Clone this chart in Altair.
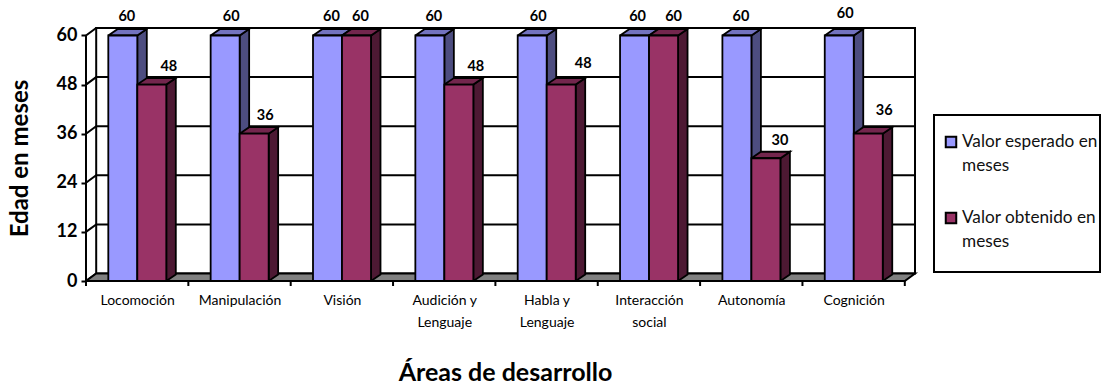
import altair as alt
import pandas as pd

# Developmental age by area, in months
areas = ["Locomoción", "Manipulación", "Visión", "Audición y|Lenguaje", "Habla y|Lenguaje",
         "Interacción|social", "Autonomía", "Cognición"]
esperado = [60, 60, 60, 60, 60, 60, 60, 60]
obtenido = [48, 36, 60, 48, 48, 60, 30, 36]
y_ticks = [0, 12, 24, 36, 48, 60]

# Label nudges (px) from the centre of each bar's front face
esperado_dx = [4, 6, 4, 4, 6, 3, 4, 6]
esperado_dy = [19, 19, 19, 19, 19, 19, 19, 22]
obtenido_dx = [17, 11, 4, 17, 22, 10, 14, 16]
obtenido_dy = [18, 18, 19, 18, 21, 19, 17, 23]

W, H = 829, 253
PX_X = 102.35   # pixels per category
PX_Y = 4.1      # pixels per month
WALL_DX, WALL_DY = 10.2 / PX_X, 7.5 / PX_Y
BAR_DX, BAR_DY = 9.5 / PX_X, 6.5 / PX_Y
BAR_W = 29 / PX_X
BAR_START = 22.3 / PX_X
N = len(areas)

FONT = "Lato"
xs = alt.Scale(domain=[0, N + WALL_DX], nice=False, zero=False)
ys = alt.Scale(domain=[0, 60 + WALL_DY], nice=False, zero=False)
LINE = 1.8

# x labels sit in the middle of each category; y axis carries ticks and labels
label_expr = "split(" + str(areas).replace("'", '"') + "[datum.value - 0.5], '|')"
x_axis = alt.Axis(
    values=[i + 0.5 for i in range(N)], labelExpr=label_expr, ticks=False, domain=False, grid=False,
    labelFont=FONT, labelFontSize=14, labelColor="black", labelPadding=19, labelLineHeight=22,
    labelOverlap=False, labelBaseline="middle",
    title="Áreas de desarrollo", titleFont=FONT, titleFontSize=25, titleFontWeight="bold",
    titleColor="black", titleX=419, titleY=91, titleAnchor="middle", titleBaseline="middle")
y_axis = alt.Axis(
    values=y_ticks, format="d", domain=False, grid=False, tickColor="black", tickWidth=2, tickSize=5,
    labelFont=FONT, labelFontSize=18, labelFontWeight="bold", labelColor="black", labelPadding=4,
    title="Edad en meses", titleFont=FONT, titleFontSize=24, titleFontWeight="bold", titleColor="black",
    titleX=-66, titleY=130, titleAngle=270, titleAnchor="middle", titleBaseline="middle")
X = lambda f="x": alt.X(f"{f}:Q", scale=xs, axis=x_axis)
Y = lambda f="y": alt.Y(f"{f}:Q", scale=ys, axis=y_axis)


def polygons(shapes, fill, width=LINE):
    """Filled outline per shape; each shape is a list of (x, y) corners."""
    rows = []
    for k, corners in enumerate(shapes):
        for o, (x, y) in enumerate(corners + corners[:1]):
            rows.append(dict(k=k, o=o, x=x, y=y))
    return alt.Chart(pd.DataFrame(rows)).mark_line(
        fill=fill, stroke="black", strokeWidth=width, clip=False, strokeJoin="miter", opacity=1
    ).encode(x=X(), y=Y(), detail="k:N", order="o:Q")


def bars(values, slot, front, side, top):
    sides, tops, fronts = [], [], []
    for i, v in enumerate(values):
        a = i + BAR_START + slot * BAR_W
        b = a + BAR_W
        sides.append([(b, 0), (b + BAR_DX, BAR_DY), (b + BAR_DX, v + BAR_DY), (b, v)])
        tops.append([(a, v), (a + BAR_DX, v + BAR_DY), (b + BAR_DX, v + BAR_DY), (b, v)])
        fronts.append([(a, 0), (b, 0), (b, v), (a, v)])
    return [polygons(sides, side), polygons(tops, top), polygons(fronts, front)]


# Back wall
wall = polygons([[(WALL_DX, WALL_DY), (N + WALL_DX, WALL_DY), (N + WALL_DX, 60 + WALL_DY), (WALL_DX, 60 + WALL_DY)]],
                "white", 2)

# Gridlines wrap from the front axis onto the back wall
grid_rows = []
for t in y_ticks:
    grid_rows += [dict(k=t, o=0, x=0, y=t), dict(k=t, o=1, x=WALL_DX, y=t + WALL_DY)]
    if t > 0:
        grid_rows.append(dict(k=t, o=2, x=N + WALL_DX, y=t + WALL_DY))
grid = alt.Chart(pd.DataFrame(grid_rows)).mark_line(
    color="black", strokeWidth=2, clip=False
).encode(x=X(), y=Y(), detail="k:N", order="o:Q")

# Floor
floor = polygons([[(0, 0), (N, 0), (N + WALL_DX, WALL_DY), (WALL_DX, WALL_DY)]], "#808080", 2)

front_axis = alt.Chart(pd.DataFrame([dict(x=0, y=0, y2=60)])).mark_rule(
    color="black", strokeWidth=2, clip=False
).encode(x=X(), y=Y(), y2="y2:Q")
bottom_axis = alt.Chart(pd.DataFrame([dict(x=0, x2=N, y=0)])).mark_rule(
    color="black", strokeWidth=2, clip=False
).encode(x=X(), x2="x2:Q", y=Y())
x_ticks = alt.Chart(pd.DataFrame(dict(x=list(range(N + 1))))).mark_rule(
    color="black", strokeWidth=2, clip=False
).encode(x=X(), y=alt.value(H), y2=alt.value(H + 5))

# Value labels above the bars
label_rows = []
for i in range(N):
    label_rows.append(dict(x=i + BAR_START + BAR_W / 2 + esperado_dx[i] / PX_X,
                           y=esperado[i] + esperado_dy[i] / PX_Y, t=esperado[i]))
    label_rows.append(dict(x=i + BAR_START + 1.5 * BAR_W + obtenido_dx[i] / PX_X,
                           y=obtenido[i] + obtenido_dy[i] / PX_Y, t=obtenido[i]))
labels = alt.Chart(pd.DataFrame(label_rows)).mark_text(
    font=FONT, fontSize=14.5, fontWeight="bold", color="black", clip=False
).encode(x=X(), y=Y(), text="t:Q")

# Legend box
LEG_X = 848
one = pd.DataFrame([dict(a=0)])
legend_box = alt.Chart(one).mark_rect(fill="white", stroke="black", strokeWidth=2, clip=False).encode(
    x=alt.value(LEG_X), x2=alt.value(1014), y=alt.value(87), y2=alt.value(244))


def legend_entry(color, y, line1, line2):
    swatch = alt.Chart(one).mark_point(
        shape="square", filled=True, fill=color, stroke="black", strokeWidth=2, size=110, opacity=1, clip=False
    ).encode(x=alt.value(LEG_X + 17), y=alt.value(y))
    texts = [
        alt.Chart(one).mark_text(font=FONT, fontSize=17.2, color="#111111", align="left", baseline="middle", clip=False)
        .encode(x=alt.value(LEG_X + 28), y=alt.value(y + dy), text=alt.value(s))
        for s, dy in ((line1, 0), (line2, 24))
    ]
    return [swatch] + texts


chart = alt.layer(
    wall, grid, floor, front_axis, x_ticks,
    *bars(esperado, 0, "#9999FF", "#4D4D80", "#7373BF"),
    *bars(obtenido, 1, "#993366", "#4D1933", "#73264D"),
    bottom_axis, labels, legend_box,
    *legend_entry("#9999FF", 114, "Valor esperado en", "meses"),
    *legend_entry("#993366", 190, "Valor obtenido en", "meses"),
).properties(
    width=W, height=H, background="white",
    autosize=alt.AutoSizeParams(type="none"),
    padding={"left": 86, "top": 28, "right": 189, "bottom": 104},
).configure_view(stroke=None)

chart.save("out.html", embed_options={"renderer": "svg", "actions": False})
